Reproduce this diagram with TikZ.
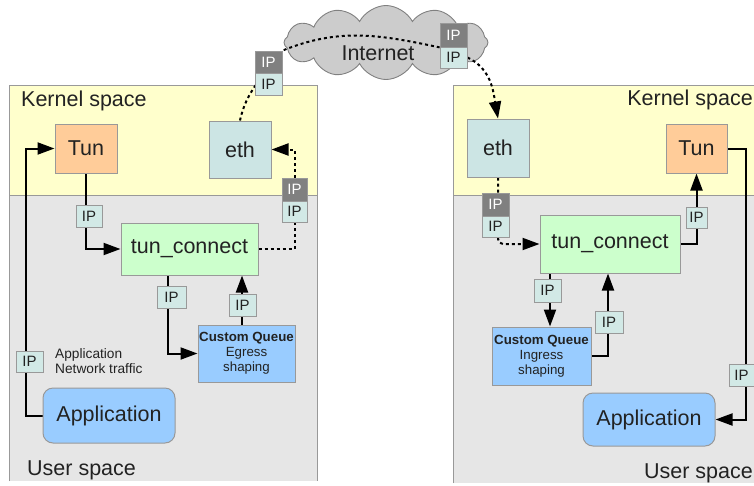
\documentclass[tikz,border=0pt]{standalone}
\usepackage{fontspec}
\setmainfont{Liberation Sans}
\usetikzlibrary{shapes.symbols,arrows.meta,calc}
\pgfdeclarelayer{panel}\pgfdeclarelayer{conn}
\pgfsetlayers{panel,conn,main}
\definecolor{kern}{HTML}{FFFFCC}
\definecolor{usr}{HTML}{E6E6E6}
\definecolor{edge}{HTML}{999999}
\definecolor{tunfill}{HTML}{FFCC99}
\definecolor{ethfill}{HTML}{CCE5E4}
\definecolor{ipfill}{HTML}{D2E9E6}
\definecolor{ipdark}{HTML}{808080}
\definecolor{tcfill}{HTML}{CCFFCC}
\definecolor{qfill}{HTML}{99CCFF}
\definecolor{cloudfill}{HTML}{CCCCCC}
\definecolor{txt}{HTML}{222222}
\begin{document}
\begin{tikzpicture}[x=1pt,y=-1pt,
  big/.style={font=\fontsize{21.5}{24}\selectfont,text=txt},
  box/.style={draw=edge,line width=1pt,inner sep=0pt,big},
  ip/.style={draw=edge,line width=0.8pt,fill=ipfill,inner sep=0pt,minimum width=26pt,minimum height=22pt,font=\fontsize{15}{15}\selectfont,text=txt},
  ipd/.style={ip,fill=ipdark,text=white},
  queue/.style={box,fill=qfill,align=center,font=\fontsize{13.3}{15}\selectfont,text=txt},
  app/.style={box,fill=qfill,rounded corners=10pt},
  arr/.style={line width=2pt,draw=black,-{Triangle[length=17pt,width=12pt]}},
  dotline/.style={line width=2pt,draw=black,dash pattern=on 3pt off 3pt},
  dotarr/.style={dotline,-{Triangle[length=17pt,width=12pt]}},
  small/.style={font=\fontsize{13.7}{15.5}\selectfont,text=txt,align=left,inner sep=0pt}
]
\useasboundingbox (0,0) rectangle (754,485);

\begin{pgfonlayer}{panel}
  % left panel
  \fill[usr] (9,195) rectangle (317,481);
  \fill[kern] (9,85) rectangle (317,195);
  \draw[edge,line width=1pt] (9,481) -- (9,85) -- (317,85) -- (317,481);
  \draw[edge,line width=1pt] (9,195) -- (317,195);
  % right panel
  \fill[usr] (453,195) rectangle (780,483);
  \fill[kern] (453,85) rectangle (780,195);
  \draw[edge,line width=1pt] (453,483) -- (453,85) -- (780,85);
  \draw[edge,line width=1pt] (453,195) -- (780,195);
  \node[big,anchor=base west,inner sep=0pt] (ksL) at (21,106) {Kernel space};
  \node[big,anchor=base west,inner sep=0pt] (usL) at (27,475) {User space};
  \node[big,anchor=base east,inner sep=0pt] (ksR) at (753,105) {Kernel space};
  \node[big,anchor=base east,inner sep=0pt] (usR) at (753,478) {User space};
  % cloud
  \node[cloud,cloud puffs=12,cloud puff arc=125,aspect=2.8,draw=ipdark,line width=0.9pt,fill=cloudfill,
        minimum width=204pt,minimum height=74pt,inner sep=0pt] (cloud) at (386,42.5) {};
  \node[big,inner sep=0pt] (inet) at (378,53) {Internet};
\end{pgfonlayer}

% ---- left side nodes
\node[box,fill=tunfill,minimum width=62pt,minimum height=49pt] (tunL) at (86,148.5) {Tun};
\node[box,fill=ethfill,minimum width=62pt,minimum height=57pt] (ethL) at (240,149.5) {eth};
\node[box,fill=tcfill,minimum width=137pt,minimum height=52pt] (tcL) at (189.5,249) {tun\_connect};
\node[queue,minimum width=97pt,minimum height=57pt] (qL) at (246.5,353.5) {\textbf{Custom Queue}\\Egress\\shaping};
\node[app,minimum width=132pt,minimum height=55pt] (appL) at (109,415.5) {Application};
\node[small,anchor=west] (lblL) at (55,361) {Application\\Network traffic};

% ---- right side nodes
\node[box,fill=tunfill,minimum width=61pt,minimum height=49pt] (tunR) at (696.5,148.5) {Tun};
\node[box,fill=ethfill,minimum width=62pt,minimum height=58pt] (ethR) at (498,148) {eth};
\node[box,fill=tcfill,minimum width=140pt,minimum height=58pt] (tcR) at (610,244) {tun\_connect};
\node[queue,minimum width=99pt,minimum height=58pt] (qR) at (541.5,356) {\textbf{Custom Queue}\\Ingress\\shaping};
\node[app,minimum width=132pt,minimum height=53pt] (appR) at (649,419.5) {Application};

% ---- IP boxes
\node[ipd,minimum width=27pt] (ipCLd) at (268.5,62) {IP};
\node[ip,minimum width=27pt] (ipCLl) at (268.5,84) {IP};
\node[ipd,minimum width=27pt,minimum height=24pt] (ipCRd) at (453.5,35) {IP};
\node[ip,minimum width=27pt,minimum height=21pt] (ipCRl) at (453.5,57.5) {IP};
\node[ipd,minimum width=25pt,minimum height=23pt] (ipSLd) at (294.5,189.5) {IP};
\node[ip,minimum width=25pt,minimum height=21pt] (ipSLl) at (294.5,211.5) {IP};
\node[ipd,minimum width=27pt,minimum height=23pt] (ipSRd) at (495.5,204.5) {IP};
\node[ip,minimum width=27pt,minimum height=21pt] (ipSRl) at (495.5,226.5) {IP};
\node[ip] (ipA) at (89,216) {IP};
\node[ip,minimum width=29pt] (ipB) at (171.5,297) {IP};
\node[ip,minimum width=27pt] (ipC) at (242.5,305) {IP};
\node[ip,minimum width=27pt,minimum height=21pt] (ipD) at (29.5,361.5) {IP};
\node[ip,minimum width=21pt,minimum height=21pt] (ipE) at (696.5,217.5) {IP};
\node[ip,minimum width=27pt,minimum height=23pt] (ipF) at (547.5,290.5) {IP};
\node[ip,minimum width=28pt] (ipG) at (609,322) {IP};
\node[ip,minimum width=25pt] (ipH) at (741.5,375) {IP};

% ---- connectors
\begin{pgfonlayer}{conn}
  % left
  \draw[arr] (appL.west) -- ++(-17,0) |- (tunL.west);
  \draw[arr] (tunL.south) |- (tcL.west);
  \draw[arr] ([xshift=-21.5pt]tcL.south) |- (qL.west);
  \draw[arr] ([xshift=-4.5pt]qL.north) coordinate (qa) -- (qa |- tcL.south);
  \draw[dotline] (tcL.east) -| (ipSLl.south);
  \draw[dotarr] (ipSLd.north) |- (ethL.east);
  \draw[dotline] (ethL.north) to[out=78,in=235] (ipCLd.north east)
                 to[out=22,in=168] (ipCRd.south west);
  \draw[dotarr] (ipCRl.east) to[out=-25,in=100] (ethR.north);
  % right
  \draw[dotarr,rounded corners=5pt] (ethR.south) |- (tcR.west);
  \draw[arr] (tcR.east) -| (tunR.south);
  \draw[arr] (tunR.east) -- ++(18,0) |- (appR.east);
  \draw[arr] ([xshift=-60pt]tcR.south) coordinate (ra) -- (ra |- qR.north);
  \draw[arr] (qR.east) -| ([xshift=-2pt]tcR.south);
\end{pgfonlayer}
\end{tikzpicture}
\end{document}
